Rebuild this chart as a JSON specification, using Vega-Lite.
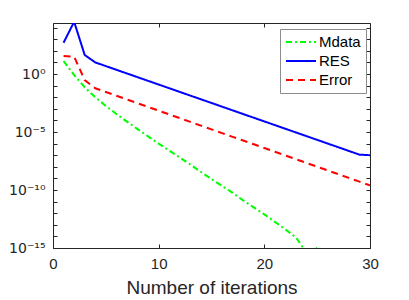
{
  "$schema": "https://vega.github.io/schema/vega-lite/v6.json",
  "width": 317,
  "height": 225,
  "autosize": {"type": "none"},
  "padding": {"left": 53, "top": 23, "right": 39, "bottom": 52},
  "config": {
    "font": "Liberation Sans",
    "view": {"stroke": null},
    "axis": {"grid": false, "domainColor": "#262626", "tickColor": "#262626", "labelColor": "#262626", "titleColor": "#262626", "labelFont": "Liberation Sans", "titleFont": "Liberation Sans"}
  },
  "data": {"values": [
    {"it": 1, "series": "Mdata", "v": 13.2},
    {"it": 2, "series": "Mdata", "v": 0.813},
    {"it": 3, "series": "Mdata", "v": 0.0708},
    {"it": 4, "series": "Mdata", "v": 0.01},
    {"it": 5, "series": "Mdata", "v": 1.78e-3},
    {"it": 6, "series": "Mdata", "v": 3.55e-4},
    {"it": 7, "series": "Mdata", "v": 7.94e-5},
    {"it": 8, "series": "Mdata", "v": 1.78e-5},
    {"it": 9, "series": "Mdata", "v": 4.17e-6},
    {"it": 10, "series": "Mdata", "v": 1e-6},
    {"it": 11, "series": "Mdata", "v": 2.51e-7},
    {"it": 12, "series": "Mdata", "v": 6.31e-8},
    {"it": 13, "series": "Mdata", "v": 1.58e-8},
    {"it": 14, "series": "Mdata", "v": 3.55e-9},
    {"it": 15, "series": "Mdata", "v": 8.91e-10},
    {"it": 16, "series": "Mdata", "v": 2.24e-10},
    {"it": 17, "series": "Mdata", "v": 5.62e-11},
    {"it": 18, "series": "Mdata", "v": 1.26e-11},
    {"it": 19, "series": "Mdata", "v": 3.16e-12},
    {"it": 20, "series": "Mdata", "v": 7.94e-13},
    {"it": 21, "series": "Mdata", "v": 1.78e-13},
    {"it": 22, "series": "Mdata", "v": 3.98e-14},
    {"it": 23, "series": "Mdata", "v": 7.94e-15},
    {"it": 24, "series": "Mdata", "v": 4e-16},
    {"it": 25, "series": "Mdata", "v": 1e-15},
    {"it": 1, "series": "RES", "v": 501},
    {"it": 2, "series": "RES", "v": 31623},
    {"it": 3, "series": "RES", "v": 43.7},
    {"it": 4, "series": "RES", "v": 10},
    {"it": 5, "series": "RES", "v": 4.81},
    {"it": 6, "series": "RES", "v": 2.31},
    {"it": 7, "series": "RES", "v": 1.11},
    {"it": 8, "series": "RES", "v": 0.535},
    {"it": 9, "series": "RES", "v": 0.257},
    {"it": 10, "series": "RES", "v": 0.124},
    {"it": 11, "series": "RES", "v": 0.0594},
    {"it": 12, "series": "RES", "v": 0.0286},
    {"it": 13, "series": "RES", "v": 0.0137},
    {"it": 14, "series": "RES", "v": 6.61e-3},
    {"it": 15, "series": "RES", "v": 3.18e-3},
    {"it": 16, "series": "RES", "v": 1.53e-3},
    {"it": 17, "series": "RES", "v": 7.35e-4},
    {"it": 18, "series": "RES", "v": 3.53e-4},
    {"it": 19, "series": "RES", "v": 1.70e-4},
    {"it": 20, "series": "RES", "v": 8.17e-5},
    {"it": 21, "series": "RES", "v": 3.93e-5},
    {"it": 22, "series": "RES", "v": 1.89e-5},
    {"it": 23, "series": "RES", "v": 9.08e-6},
    {"it": 24, "series": "RES", "v": 4.37e-6},
    {"it": 25, "series": "RES", "v": 2.10e-6},
    {"it": 26, "series": "RES", "v": 1.01e-6},
    {"it": 27, "series": "RES", "v": 4.85e-7},
    {"it": 28, "series": "RES", "v": 2.33e-7},
    {"it": 29, "series": "RES", "v": 1.12e-7},
    {"it": 30, "series": "RES", "v": 1.0e-7},
    {"it": 1, "series": "Error", "v": 35.5},
    {"it": 2, "series": "Error", "v": 31.6},
    {"it": 3, "series": "Error", "v": 0.302},
    {"it": 4, "series": "Error", "v": 0.0589},
    {"it": 5, "series": "Error", "v": 0.0281},
    {"it": 6, "series": "Error", "v": 0.0134},
    {"it": 7, "series": "Error", "v": 6.37e-3},
    {"it": 8, "series": "Error", "v": 3.03e-3},
    {"it": 9, "series": "Error", "v": 1.45e-3},
    {"it": 10, "series": "Error", "v": 6.89e-4},
    {"it": 11, "series": "Error", "v": 3.28e-4},
    {"it": 12, "series": "Error", "v": 1.56e-4},
    {"it": 13, "series": "Error", "v": 7.45e-5},
    {"it": 14, "series": "Error", "v": 3.55e-5},
    {"it": 15, "series": "Error", "v": 1.69e-5},
    {"it": 16, "series": "Error", "v": 8.05e-6},
    {"it": 17, "series": "Error", "v": 3.84e-6},
    {"it": 18, "series": "Error", "v": 1.83e-6},
    {"it": 19, "series": "Error", "v": 8.71e-7},
    {"it": 20, "series": "Error", "v": 4.15e-7},
    {"it": 21, "series": "Error", "v": 1.98e-7},
    {"it": 22, "series": "Error", "v": 9.42e-8},
    {"it": 23, "series": "Error", "v": 4.49e-8},
    {"it": 24, "series": "Error", "v": 2.14e-8},
    {"it": 25, "series": "Error", "v": 1.02e-8},
    {"it": 26, "series": "Error", "v": 4.85e-9},
    {"it": 27, "series": "Error", "v": 2.31e-9},
    {"it": 28, "series": "Error", "v": 1.10e-9},
    {"it": 29, "series": "Error", "v": 5.25e-10},
    {"it": 30, "series": "Error", "v": 2.51e-10}
  ]},
  "layer": [
    {
      "mark": {"type": "line", "clip": true, "strokeWidth": 2},
      "encoding": {
        "x": {"field": "it", "type": "quantitative", "scale": {"domain": [0, 30]},
          "axis": {"orient": "bottom", "values": [0, 10, 20, 30], "title": "Number of iterations", "titleFontSize": 19, "titleFontWeight": "normal", "titlePadding": 7, "labelFontSize": 15, "tickSize": -4, "labelPadding": 12, "labelFlush": false}},
        "y": {"field": "v", "type": "quantitative", "scale": {"type": "log", "domain": [1e-15, 25000]},
          "axis": {"orient": "left", "values": [1e-15, 1e-14, 1e-13, 1e-12, 1e-11, 1e-10, 1e-9, 1e-8, 1e-7, 1e-6, 1e-5, 1e-4, 1e-3, 1e-2, 1e-1, 1, 10, 100, 1000, 10000],
            "labelExpr": "datum.value == 1 ? '10⁰' : datum.value == 1e-5 ? '10⁻⁵' : datum.value == 1e-10 ? '10⁻¹⁰' : datum.value == 1e-15 ? '10⁻¹⁵' : ''",
            "title": null, "labelFont": "DejaVu Sans", "labelFontSize": 14, "tickSize": -4, "labelPadding": 12}},
        "color": {"field": "series", "type": "nominal",
          "scale": {"domain": ["Mdata", "RES", "Error"], "range": ["#00ff00", "#0000ff", "#ff0000"]},
          "legend": {"orient": "none", "legendX": 227, "legendY": 6, "title": null, "symbolType": "stroke", "symbolSize": 900, "symbolStrokeWidth": 2, "labelFontSize": 15, "labelColor": "#000000", "labelOffset": 2, "strokeColor": "#8c8c8c", "fillColor": "#ffffff", "padding": 5, "rowPadding": 3, "clipHeight": 16}},
        "strokeDash": {"field": "series", "type": "nominal",
          "scale": {"domain": ["Mdata", "RES", "Error"], "range": [[6, 3, 2, 3], [1, 0], [7, 5]]},
          "legend": {"orient": "none", "legendX": 227, "legendY": 6, "title": null, "symbolType": "stroke", "symbolSize": 900, "symbolStrokeWidth": 2, "labelFontSize": 15, "labelColor": "#000000", "labelOffset": 2, "strokeColor": "#8c8c8c", "fillColor": "#ffffff", "padding": 5, "rowPadding": 3, "clipHeight": 16}}
      }
    },
    {
      "mark": {"type": "line", "opacity": 0},
      "encoding": {
        "x": {"field": "it", "type": "quantitative", "scale": {"domain": [0, 30]},
          "axis": {"orient": "top", "values": [0, 10, 20, 30], "title": null, "labels": false, "tickSize": -4}},
        "y": {"field": "v", "type": "quantitative", "scale": {"type": "log", "domain": [1e-15, 25000]},
          "axis": {"orient": "right", "values": [1e-15, 1e-14, 1e-13, 1e-12, 1e-11, 1e-10, 1e-9, 1e-8, 1e-7, 1e-6, 1e-5, 1e-4, 1e-3, 1e-2, 1e-1, 1, 10, 100, 1000, 10000], "title": null, "labels": false, "tickSize": -4}}
      }
    }
  ],
  "resolve": {"axis": {"x": "independent", "y": "independent"}}
}
